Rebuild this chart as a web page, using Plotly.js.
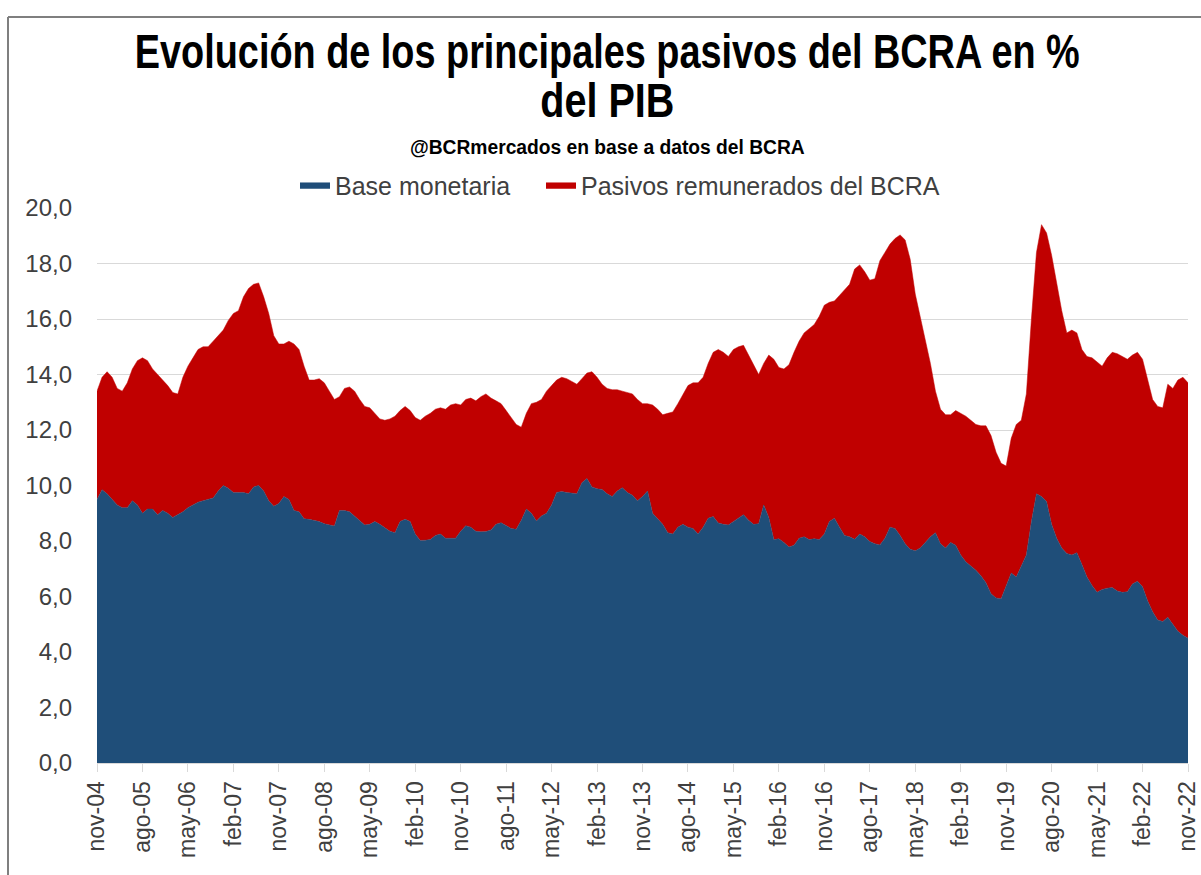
<!DOCTYPE html>
<html>
<head>
<meta charset="utf-8">
<script src="https://cdn.plot.ly/plotly-3.0.1.min.js"></script>
<style>html,body{margin:0;padding:0;background:#fff;}#chart{width:1201px;height:875px;}</style>
</head>
<body>
<div id="chart"></div>
<script>
// Month abbreviations (Spanish) used for the category labels
const monthNames = ['ene','feb','mar','abr','may','jun','jul','ago','sep','oct','nov','dic'];
const startYear = 2004, startMonth = 10; // nov-04
const nMonths = 217; // nov-04 .. nov-22

// Base monetaria (% del PIB), monthly
const baseMonetaria = [
9.5,9.85,9.7,9.5,9.3,9.2,9.2,9.45,9.3,9.0,
9.15,9.15,8.95,9.1,9.0,8.85,8.95,9.05,9.2,9.3,
9.4,9.45,9.5,9.55,9.8,10.0,9.9,9.75,9.75,9.75,
9.7,9.95,10.0,9.8,9.45,9.25,9.35,9.6,9.5,9.1,
9.05,8.8,8.78,8.75,8.7,8.62,8.58,8.54,9.1,9.1,
9.05,8.9,8.75,8.58,8.6,8.7,8.6,8.47,8.35,8.3,
8.7,8.78,8.7,8.25,8.02,8.03,8.05,8.2,8.25,8.1,
8.1,8.1,8.35,8.55,8.5,8.35,8.33,8.34,8.4,8.6,
8.66,8.55,8.45,8.42,8.75,9.15,9.0,8.72,8.9,9.0,
9.3,9.75,9.78,9.75,9.72,9.7,10.1,10.25,9.95,9.88,
9.86,9.7,9.6,9.8,9.92,9.75,9.65,9.45,9.6,9.8,
9.0,8.8,8.6,8.3,8.25,8.5,8.6,8.5,8.45,8.25,
8.5,8.82,8.88,8.65,8.6,8.58,8.7,8.85,8.95,8.75,
8.6,8.62,9.3,8.85,8.05,8.08,7.95,7.78,7.85,8.1,
8.15,8.05,8.08,8.05,8.25,8.7,8.82,8.5,8.2,8.15,
8.06,8.25,8.15,7.98,7.9,7.86,8.1,8.5,8.45,8.2,
7.9,7.7,7.65,7.75,7.95,8.15,8.3,7.9,7.75,7.95,
7.85,7.5,7.25,7.1,6.95,6.75,6.5,6.1,5.95,5.92,
6.4,6.85,6.7,7.1,7.5,8.7,9.7,9.6,9.42,8.6,
8.1,7.75,7.55,7.5,7.58,7.15,6.7,6.4,6.15,6.25,
6.3,6.32,6.2,6.15,6.17,6.45,6.55,6.35,5.85,5.45,
5.15,5.1,5.25,5.0,4.75,4.6,4.5
];

// Pasivos remunerados del BCRA (% del PIB), monthly
const pasivosRemunerados = [
3.9,4.05,4.4,4.4,4.2,4.2,4.5,4.75,5.2,5.6,
5.35,5.05,5.05,4.7,4.6,4.5,4.35,4.85,5.1,5.3,
5.5,5.55,5.5,5.65,5.6,5.6,6.05,6.45,6.55,7.05,
7.4,7.3,7.3,7.0,6.75,6.15,5.75,5.5,5.7,6.0,
5.85,5.5,5.02,5.05,5.15,5.08,4.82,4.56,4.1,4.4,
4.5,4.5,4.35,4.27,4.2,3.9,3.8,3.88,4.05,4.2,
4.0,4.07,4.0,4.2,4.33,4.47,4.55,4.55,4.55,4.65,
4.8,4.85,4.55,4.55,4.65,4.7,4.87,4.96,4.75,4.45,
4.29,4.15,4.0,3.78,3.35,3.45,3.95,4.28,4.2,4.4,
4.3,4.05,4.12,4.1,4.03,3.95,3.75,3.8,4.15,4.02,
3.79,3.8,3.85,3.65,3.48,3.6,3.65,3.65,3.35,3.15,
3.9,3.95,3.95,4.3,4.4,4.45,4.7,5.1,5.25,5.45,
5.4,5.58,5.92,6.25,6.2,6.07,6.2,6.15,6.1,5.95,
5.7,5.38,5.1,5.85,6.5,6.17,6.25,6.57,6.95,7.1,
7.35,7.6,7.72,8.05,8.25,7.9,7.83,8.35,8.85,9.1,
9.74,9.7,9.55,9.42,9.55,10.24,10.3,10.2,10.45,10.83,
10.95,10.45,9.25,8.35,7.35,6.25,5.1,4.85,4.8,4.6,
4.85,5.1,5.25,5.25,5.25,5.4,5.65,5.7,5.25,4.88,
4.3,4.85,5.5,5.25,5.8,7.3,8.7,9.8,9.68,9.7,
9.2,8.55,7.95,8.1,7.92,7.75,7.95,8.2,8.3,8.05,
8.3,8.48,8.55,8.5,8.38,8.25,8.25,8.2,7.95,7.65,
7.7,7.7,8.4,8.5,9.05,9.3,9.2
];

// Category labels "nov-04", "dic-04", ...
const months = [];
for (let k = 0; k < nMonths; k++) {
  const m = (startMonth + k) % 12;
  const y = startYear + Math.floor((startMonth + k) / 12);
  months.push(monthNames[m] + '-' + String(y % 100).padStart(2, '0'));
}
// Labelled ticks every 9 months
const tickLabels = months.filter((_, k) => k % 9 === 0);

const traces = [
  {
    x: months, y: baseMonetaria, name: 'Base monetaria',
    type: 'scatter', mode: 'lines', stackgroup: 'one', legend: 'legend',
    line: {color: '#1F4E79', width: 0.5}, fillcolor: '#1F4E79'
  },
  {
    x: months, y: pasivosRemunerados, name: 'Pasivos remunerados del BCRA',
    type: 'scatter', mode: 'lines', stackgroup: 'one', legend: 'legend2',
    line: {color: '#C00000', width: 0.5}, fillcolor: '#C00000'
  }
];

const px = v => (v - 97) / 1091;   // page x -> paper x
const py = v => (763 - v) / 555;   // page y -> paper y

const titleFont = 'Liberation Sans, Arial';
const legendStyle = {
  orientation: 'h', xanchor: 'left', y: py(185), yanchor: 'middle',
  font: {family: 'Liberation Sans, Arial', size: 25, color: '#404040'},
  itemwidth: 30, bgcolor: 'rgba(0,0,0,0)'
};
const layout = {
  width: 1201, height: 875,
  margin: {l: 97, r: 13, t: 208, b: 112},
  paper_bgcolor: '#ffffff', plot_bgcolor: '#ffffff',
  showlegend: true,
  legend: Object.assign({}, legendStyle, {x: px(295)}),
  legend2: Object.assign({}, legendStyle, {x: px(541)}),
  xaxis: {
    type: 'category', range: [0, nMonths - 1],
    tickmode: 'array', tickvals: tickLabels, ticktext: tickLabels,
    tickangle: -90, ticks: 'outside', ticklen: 8, tickcolor: '#d9d9d9',
    showgrid: false, showline: true, linecolor: '#d9d9d9', linewidth: 1,
    tickfont: {family: 'Liberation Sans, Arial', size: 23, color: '#404040'},
    zeroline: false, fixedrange: true
  },
  yaxis: {
    range: [0, 20], dtick: 2, tick0: 0, tickformat: '.1f',
    showgrid: true, gridcolor: '#d9d9d9', gridwidth: 1,
    zeroline: false, showline: false, ticks: '',
    ticklabelstandoff: 24,
    tickfont: {family: 'Liberation Sans, Arial', size: 24, color: '#404040'},
    fixedrange: true
  },
  separators: ',.',
  annotations: [
    {text: '<b>Evolución de los principales pasivos del BCRA en %</b>', xref: 'paper', yref: 'paper',
     x: px(607.5), y: py(51.5), xanchor: 'center', yanchor: 'middle', showarrow: false,
     font: {family: titleFont, size: 48, color: '#000000'}},
    {text: '<b>del PIB</b>', xref: 'paper', yref: 'paper',
     x: px(607.5), y: py(100), xanchor: 'center', yanchor: 'middle', showarrow: false,
     font: {family: titleFont, size: 48, color: '#000000'}},
    {text: '<b>@BCRmercados en base a datos del BCRA</b>', xref: 'paper', yref: 'paper',
     x: px(607.5), y: py(147), xanchor: 'center', yanchor: 'middle', showarrow: false,
     font: {family: titleFont, size: 20, color: '#000000'}}
  ],
  shapes: [
    {type: 'line', xref: 'paper', yref: 'paper', x0: px(8), x1: px(8), y0: py(17), y1: py(875),
     line: {color: '#7f7f7f', width: 2}},
    {type: 'line', xref: 'paper', yref: 'paper', x0: px(8), x1: px(1201), y0: py(17), y1: py(17),
     line: {color: '#7f7f7f', width: 2}}
  ]
};

// Target widths (px) of the condensed title lines in the reference
const titleWidths = [945, 134, 395];

Plotly.newPlot('chart', traces, layout, {displayModeBar: false, responsive: false}).then(gd => {
  gd.querySelectorAll('g.annotation').forEach((g, k) => {
    const t = g.querySelector('text.annotation-text');
    if (!t || titleWidths[k] === undefined) return;
    const bb = t.getBBox();
    const s = titleWidths[k] / bb.width;
    const cx = bb.x + bb.width / 2;
    const prev = t.getAttribute('transform') || '';
    t.setAttribute('transform', prev + ' translate(' + cx + ',0) scale(' + s + ',1) translate(' + (-cx) + ',0)');
  });
});
</script>
</body>
</html>
